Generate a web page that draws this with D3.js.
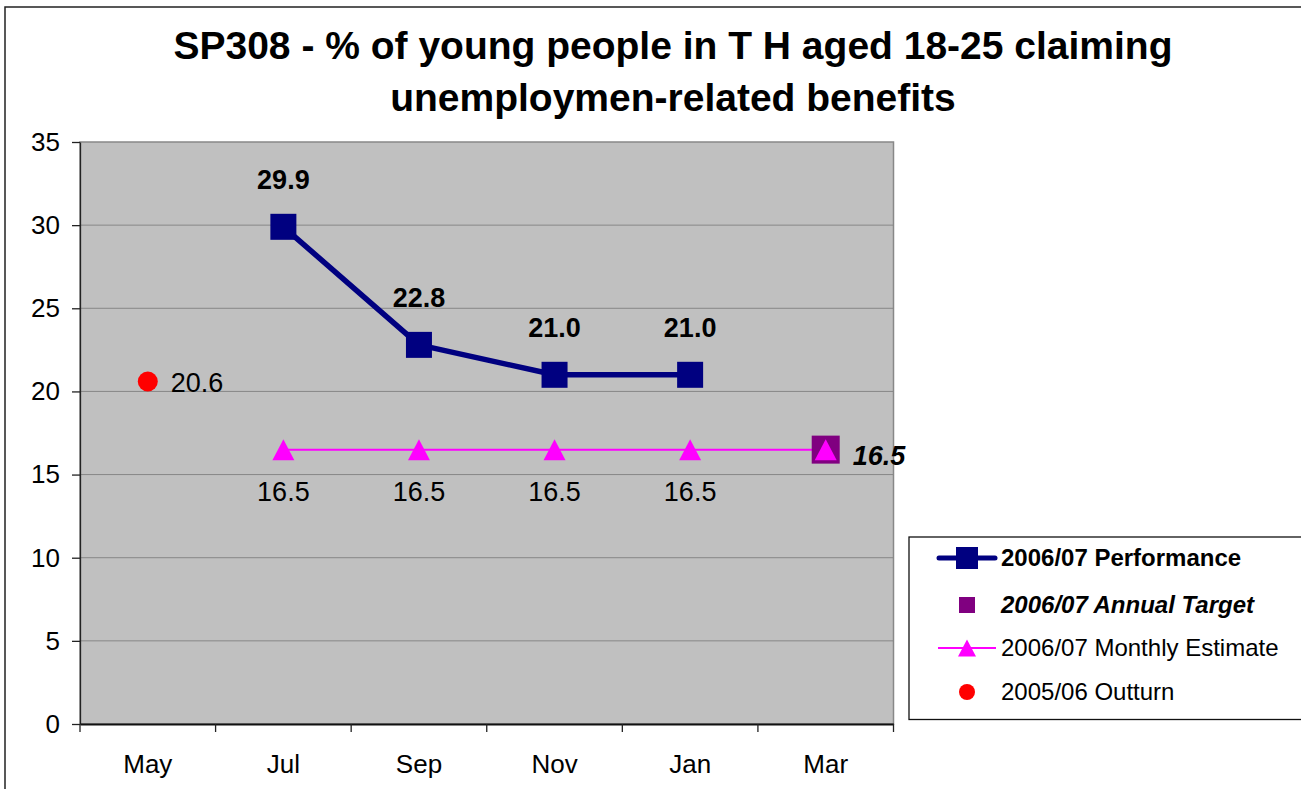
<!DOCTYPE html>
<html>
<head>
<meta charset="utf-8">
<script src="https://cdn.jsdelivr.net/npm/d3@7"></script>
<style>
  html, body { margin: 0; padding: 0; background: #ffffff; }
  svg { display: block; }
  text { font-family: "Liberation Sans", Arial, Helvetica, sans-serif; fill: #000; }
</style>
</head>
<body>
<svg id="chart" width="1301" height="789"></svg>
<script>
// Chart data
const categories = ["May", "Jul", "Sep", "Nov", "Jan", "Mar"];
const performance = [null, 29.9, 22.8, 21.0, 21.0, null];
const annualTarget = [null, null, null, null, null, 16.5];
const monthlyEstimate = [null, 16.5, 16.5, 16.5, 16.5, 16.5];
const outturn = [20.6, null, null, null, null, null];
const yTicks = [0, 5, 10, 15, 20, 25, 30, 35];
const titleLines = [
  "SP308 - % of young people in T H aged 18-25 claiming",
  "unemploymen-related benefits"
];
const legendItems = [
  "2006/07 Performance",
  "2006/07 Annual Target",
  "2006/07 Monthly Estimate",
  "2005/06 Outturn"
];

const svg = d3.select("#chart");

// Layout
const plot = { left: 80, right: 893.5, top: 142, bottom: 724 };
const x = d3.scaleBand().domain(categories).range([plot.left, plot.right]);
const y = d3.scaleLinear().domain([0, 35]).range([plot.bottom, plot.top]);
const cx = c => x(c) + x.bandwidth() / 2;

const NAVY = "#000080", MAGENTA = "#ff00ff", PURPLE = "#800080", RED = "#ff0000";

// Outer chart frame
svg.append("rect")
  .attr("x", 5).attr("y", 7).attr("width", 1400).attr("height", 900)
  .attr("fill", "#fff").attr("stroke", "#222").attr("stroke-width", 1.5);

// Title
svg.append("g").selectAll("text").data(titleLines).join("text")
  .attr("x", 673).attr("y", (d, i) => 45 + i * 52)
  .attr("dy", "0.35em")
  .attr("text-anchor", "middle")
  .style("font-size", "39px").style("font-weight", "bold")
  .text(d => d);

// Plot area
svg.append("rect")
  .attr("x", plot.left).attr("y", plot.top)
  .attr("width", plot.right - plot.left).attr("height", plot.bottom - plot.top)
  .attr("fill", "#c0c0c0").attr("stroke", "#888").attr("stroke-width", 1.5);

// Gridlines
svg.append("g").selectAll("line").data(yTicks.filter(t => t > 0 && t < 35)).join("line")
  .attr("x1", plot.left).attr("x2", plot.right)
  .attr("y1", d => y(d)).attr("y2", d => y(d))
  .attr("stroke", "#878787").attr("stroke-width", 1);

// Y axis
const yAxis = svg.append("g")
  .attr("transform", `translate(${plot.left},0)`)
  .call(d3.axisLeft(y).tickValues(yTicks).tickSize(8).tickPadding(12).tickSizeOuter(0));
yAxis.select(".domain").attr("stroke", "#222").attr("stroke-width", 1.3);
yAxis.selectAll(".tick line").attr("stroke", "#222").attr("stroke-width", 1.3);
yAxis.selectAll("text").style("font-size", "26px").attr("font-family", null);

// X axis: labels centred in bands, ticks on band boundaries
const xAxis = svg.append("g")
  .attr("transform", `translate(0,${plot.bottom})`)
  .call(d3.axisBottom(x).tickSize(0).tickPadding(31).tickSizeOuter(0));
xAxis.select(".domain").attr("stroke", "#111").attr("stroke-width", 2);
xAxis.selectAll("text").style("font-size", "26px").attr("font-family", null);
const boundaries = categories.map(c => x(c)).concat([plot.right]);
xAxis.append("g").selectAll("line").data(boundaries).join("line")
  .attr("x1", d => d).attr("x2", d => d)
  .attr("y1", 0).attr("y2", 8)
  .attr("stroke", "#222").attr("stroke-width", 1.3);

// Series: 2006/07 Monthly Estimate line
const estPts = categories.map((c, i) => ({ c, v: monthlyEstimate[i], i })).filter(d => d.v != null);
svg.append("path")
  .datum(estPts)
  .attr("fill", "none").attr("stroke", MAGENTA).attr("stroke-width", 2)
  .attr("d", d3.line().x(d => cx(d.c)).y(d => y(d.v)));

// Series: 2006/07 Performance
const perfPts = categories.map((c, i) => ({ c, v: performance[i] })).filter(d => d.v != null);
svg.append("path")
  .datum(perfPts)
  .attr("fill", "none").attr("stroke", NAVY).attr("stroke-width", 5.5)
  .attr("stroke-linejoin", "round")
  .attr("d", d3.line().x(d => cx(d.c)).y(d => y(d.v)));
svg.append("g").selectAll("rect").data(perfPts).join("rect")
  .attr("x", d => cx(d.c) - 13).attr("y", d => y(d.v) - 13)
  .attr("width", 26).attr("height", 26).attr("fill", NAVY);
svg.append("g").selectAll("text").data(perfPts).join("text")
  .attr("x", d => cx(d.c)).attr("y", d => y(d.v) - 47)
  .attr("dy", "0.35em").attr("text-anchor", "middle")
  .style("font-size", "27px").style("font-weight", "bold")
  .text(d => d.v.toFixed(1));

// Series: 2006/07 Annual Target
const targetPts = categories.map((c, i) => ({ c, v: annualTarget[i] })).filter(d => d.v != null);
svg.append("g").selectAll("rect").data(targetPts).join("rect")
  .attr("x", d => cx(d.c) - 14).attr("y", d => y(d.v) - 14)
  .attr("width", 28).attr("height", 28).attr("fill", PURPLE);
svg.append("g").selectAll("text").data(targetPts).join("text")
  .attr("x", d => cx(d.c) + 27).attr("y", d => y(d.v) + 6)
  .attr("dy", "0.35em")
  .style("font-size", "27px").style("font-weight", "bold").style("font-style", "italic")
  .text(d => d.v.toFixed(1));

// Monthly Estimate markers and labels (months without a target value get a label)
const triangle = (w, h) => `M0,${-h / 2}L${w / 2},${h / 2}L${-w / 2},${h / 2}Z`;
svg.append("g").selectAll("path").data(estPts).join("path")
  .attr("transform", d => `translate(${cx(d.c)},${y(d.v)})`)
  .attr("d", triangle(22, 21)).attr("fill", MAGENTA);
svg.append("g").selectAll("text").data(estPts.filter(d => annualTarget[d.i] == null)).join("text")
  .attr("x", d => cx(d.c)).attr("y", d => y(d.v) + 42)
  .attr("dy", "0.35em").attr("text-anchor", "middle")
  .style("font-size", "27px")
  .text(d => d.v.toFixed(1));

// Series: 2005/06 Outturn
const outPts = categories.map((c, i) => ({ c, v: outturn[i] })).filter(d => d.v != null);
svg.append("g").selectAll("circle").data(outPts).join("circle")
  .attr("cx", d => cx(d.c)).attr("cy", d => y(d.v)).attr("r", 10).attr("fill", RED);
svg.append("g").selectAll("text").data(outPts).join("text")
  .attr("x", d => cx(d.c) + 23).attr("y", d => y(d.v) + 1)
  .attr("dy", "0.35em")
  .style("font-size", "27px")
  .text(d => d.v.toFixed(1));

// Legend
const legend = svg.append("g");
legend.append("rect")
  .attr("x", 909).attr("y", 537).attr("width", 500).attr("height", 182.5)
  .attr("fill", "#fff").attr("stroke", "#111").attr("stroke-width", 1.3);
const rowY = [558, 605, 648, 692];
const symX = 967;
// Performance entry
legend.append("line").attr("x1", 939).attr("x2", 995).attr("y1", rowY[0]).attr("y2", rowY[0])
  .attr("stroke", NAVY).attr("stroke-width", 5).attr("stroke-linecap", "round");
legend.append("rect").attr("x", symX - 11).attr("y", rowY[0] - 11).attr("width", 22).attr("height", 22).attr("fill", NAVY);
// Annual Target entry
legend.append("rect").attr("x", symX - 8).attr("y", rowY[1] - 8).attr("width", 16).attr("height", 16).attr("fill", PURPLE);
// Monthly Estimate entry
legend.append("line").attr("x1", 938).attr("x2", 996).attr("y1", rowY[2]).attr("y2", rowY[2])
  .attr("stroke", MAGENTA).attr("stroke-width", 2);
legend.append("path").attr("transform", `translate(${symX},${rowY[2]})`).attr("d", triangle(18, 17)).attr("fill", MAGENTA);
// Outturn entry
legend.append("circle").attr("cx", symX).attr("cy", rowY[3]).attr("r", 8).attr("fill", RED);

const legendStyles = [
  { w: "bold", s: "normal" },
  { w: "bold", s: "italic" },
  { w: "normal", s: "normal" },
  { w: "normal", s: "normal" }
];
legend.selectAll("text.item").data(legendItems).join("text")
  .attr("class", "item")
  .attr("x", 1001).attr("y", (d, i) => rowY[i])
  .attr("dy", "0.35em")
  .style("font-size", "24px")
  .style("font-weight", (d, i) => legendStyles[i].w)
  .style("font-style", (d, i) => legendStyles[i].s)
  .text(d => d);
</script>
</body>
</html>
